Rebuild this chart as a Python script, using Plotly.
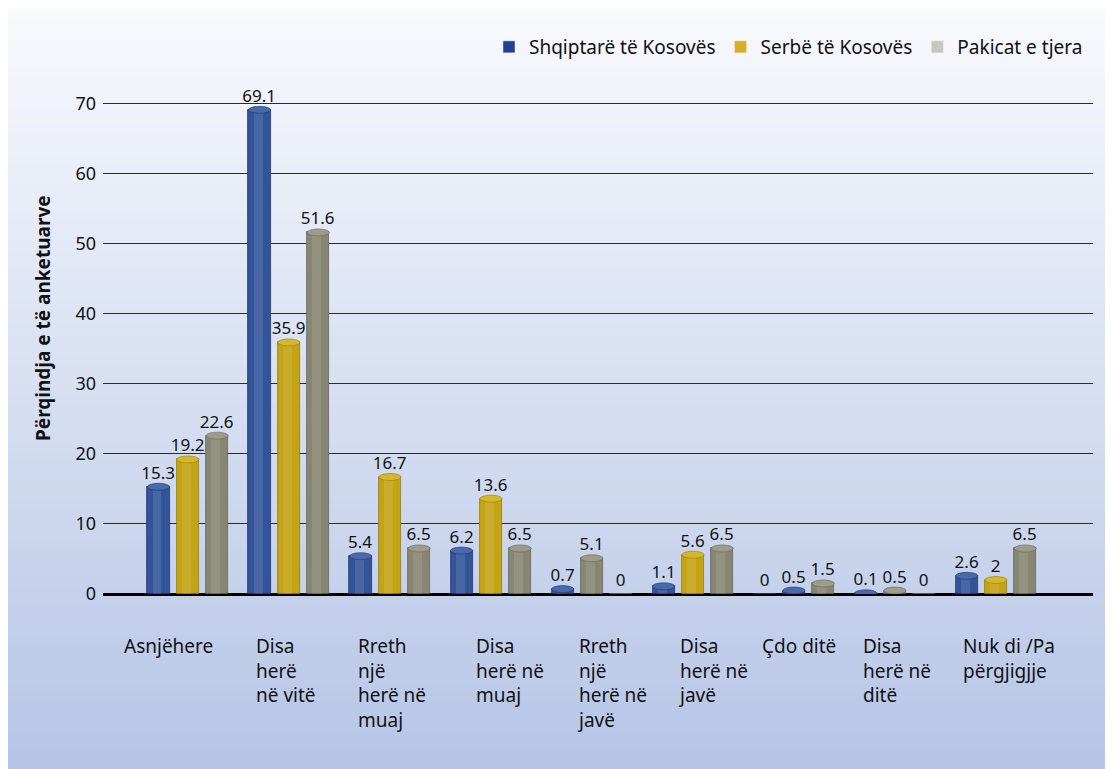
import plotly.graph_objects as go

# ---------------- data ----------------
categories = [
    "Asnjëhere",
    "Disa<br>herë<br>në vitë",
    "Rreth<br>një<br>herë në<br>muaj",
    "Disa<br>herë në<br>muaj",
    "Rreth<br>një<br>herë në<br>javë",
    "Disa<br>herë në<br>javë",
    "Çdo ditë",
    "Disa<br>herë në<br>ditë",
    "Nuk di /Pa<br>përgjigjje",
]
series_names = ["Shqiptarë të Kosovës", "Serbë të Kosovës", "Pakicat e tjera"]
shqiptare = [15.3, 69.1, 5.4, 6.2, 0.7, 1.1, 0, 0.1, 2.6]
serbe = [19.2, 35.9, 16.7, 13.6, 5.1, 5.6, 0.5, 0.5, 2]
pakicat = [22.6, 51.6, 6.5, 6.5, 0, 6.5, 1.5, 0, 6.5]
y_ticks = [0, 10, 20, 30, 40, 50, 60, 70]
y_title = "Përqindja e të anketuarve"

# ---------------- styles ----------------
BODY = {"b": "#34549a", "y": "#c4a315", "g": "#878672"}
TOP = {"b": "#4a69ab", "y": "#d6b62a", "g": "#9d9c89"}
EDGE = {"b": "#1f3872", "y": "#957c0e", "g": "#66655a"}
LEGEND_COL = ["#233f8f", "#d4ae25", "#c9c6bc"]
# colour keys per bar as they appear in the picture
color_keys = [
    ["b"] * 9,
    ["y", "y", "y", "y", "g", "y", "b", "g", "y"],
    ["g"] * 9,
]
offsets = [-0.29, 0.0, 0.29]
BAR_W = 0.22
label_shift = [-0.33, -0.03, -0.02, 0.15, 0.15, 0.15, -0.02, -0.02, -0.03]

OFF = 8  # page body margin
W, H = 1113, 769
ML, MR, MT, MB = 95, 28, 92, 183
PW, PH = W - ML - MR, H - MT - MB
YMAX = 70.5
XR = [-0.84, 8.96]


def px2paper_x(sx):
    return (sx - OFF - ML) / PW


def px2paper_y(sy):
    return (H - MB - (sy - OFF)) / PH


FONT = "Noto Sans"

fig = go.Figure()

# background gradient (bands), screen y 0..769
top_rgb = (249, 250, 253)
bot_rgb = (182, 197, 230)
n_bands = 80
SCREEN_H = 769
shapes = []
for k in range(n_bands):
    t = (k + 0.5) / n_bands
    c = tuple(round(top_rgb[j] + (bot_rgb[j] - top_rgb[j]) * t) for j in range(3))
    y_top = SCREEN_H * k / n_bands
    y_bot = SCREEN_H * (k + 1) / n_bands + 1
    shapes.append(dict(
        type="rect", xref="paper", yref="paper", layer="below",
        x0=px2paper_x(OFF - 2), x1=px2paper_x(1113 + 10),
        y0=px2paper_y(y_bot), y1=px2paper_y(y_top),
        fillcolor="rgb(%d,%d,%d)" % c, line=dict(width=0),
    ))

all_series = [shqiptare, serbe, pakicat]
for s, vals in enumerate(all_series):
    xs = [i + offsets[s] for i in range(len(vals))]
    keys = color_keys[s]
    fig.add_trace(go.Bar(
        x=xs, y=vals, width=BAR_W, name=series_names[s], showlegend=False,
        marker=dict(color=[BODY[k] for k in keys],
                    line=dict(color=[EDGE[k] for k in keys], width=0.8)),
        text=[f"{v:g}" for v in vals], textposition="outside",
        constraintext="none",
        textfont=dict(family=FONT, size=17, color="#111111"),
        cliponaxis=False,
    ))
    # cylinder highlight
    fig.add_trace(go.Bar(
        x=[x - 0.015 for x in xs], y=vals, width=BAR_W * 0.4, showlegend=False,
        marker=dict(color="rgba(255,255,255,0.10)", line=dict(width=0)),
        hoverinfo="skip",
    ))
    # cylinder tops
    for x, v, k in zip(xs, vals, keys):
        if v > 0:
            shapes.append(dict(
                type="circle", xref="x", yref="y", layer="above",
                x0=x - BAR_W / 2, x1=x + BAR_W / 2, y0=v - 0.5, y1=v + 0.5,
                fillcolor=TOP[k], line=dict(color=EDGE[k], width=0.6),
            ))

# legend-only entries
for s in range(3):
    fig.add_trace(go.Bar(x=[None], y=[None], name=series_names[s],
                         marker=dict(color=LEGEND_COL[s]), showlegend=True))

annotations = []
for i, cat in enumerate(categories):
    annotations.append(dict(
        x=i - 0.32 + label_shift[i], y=px2paper_y(631), xref="x", yref="paper",
        text=cat, showarrow=False, xanchor="left", yanchor="top", align="left",
        font=dict(family=FONT, size=19, color="#111111"),
    ))
annotations.append(dict(
    x=px2paper_x(43), y=px2paper_y(318), xref="paper", yref="paper",
    text="<b>" + y_title + "</b>", textangle=-90, showarrow=False,
    xanchor="center", yanchor="middle",
    font=dict(family=FONT, size=19, color="#111111"),
))

fig.update_layout(
    width=W, height=H, autosize=False,
    margin=dict(l=ML, r=MR, t=MT, b=MB, pad=0),
    paper_bgcolor="white", plot_bgcolor="rgba(0,0,0,0)",
    barmode="overlay", bargap=0,
    shapes=shapes, annotations=annotations,
    showlegend=True,
    legend=dict(orientation="h", x=px2paper_x(1088), xanchor="right",
                y=px2paper_y(47), yanchor="middle",
                font=dict(family=FONT, size=19, color="#111111"),
                bgcolor="rgba(0,0,0,0)", itemwidth=30, traceorder="normal"),
    xaxis=dict(range=XR, showgrid=False, zeroline=False, showticklabels=False,
               showline=False, ticks=""),
    yaxis=dict(range=[0, YMAX], tickvals=y_ticks, ticktext=[str(t) for t in y_ticks],
               showgrid=True, gridcolor="#2b2b2b", gridwidth=1.2,
               zeroline=True, zerolinecolor="#000000", zerolinewidth=3,
               showline=False, ticks="", ticklabelstandoff=6,
               tickfont=dict(family=FONT, size=18, color="#111111")),
)

fig.write_html("out.html")
